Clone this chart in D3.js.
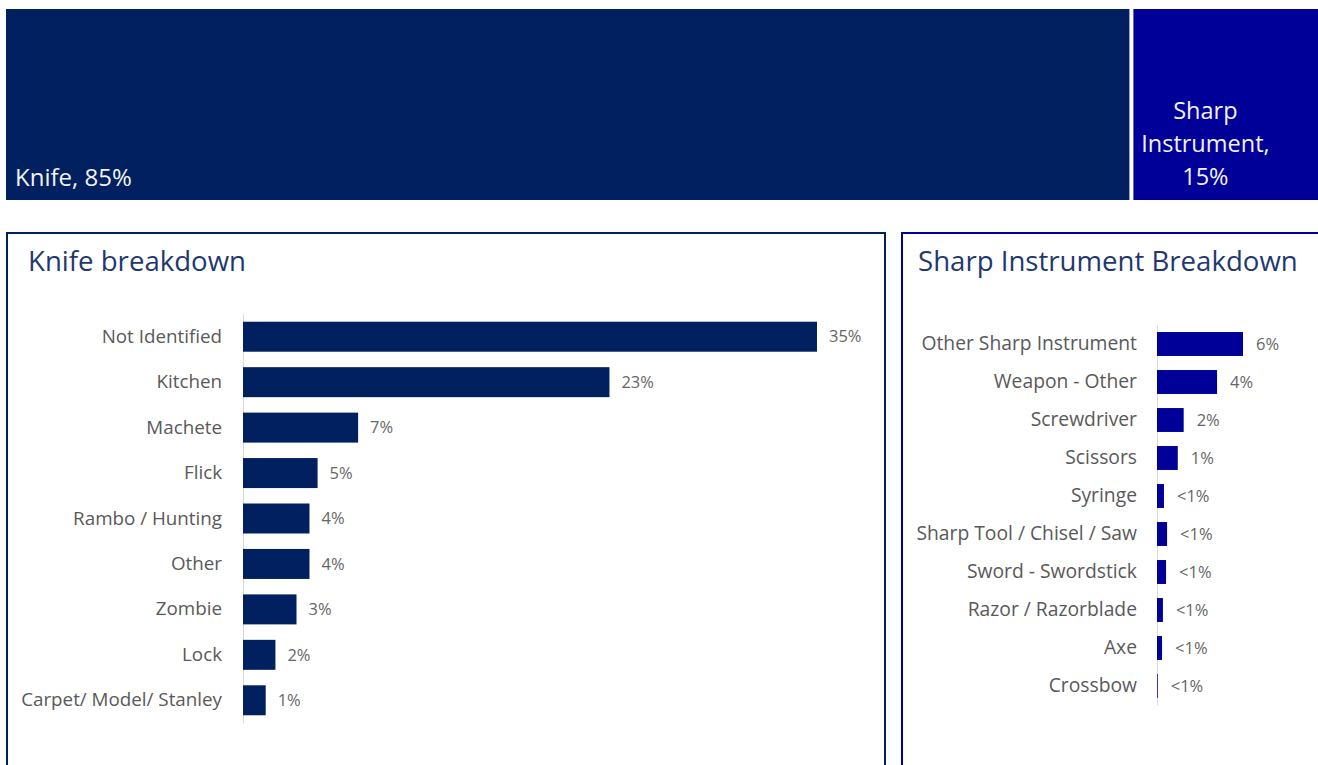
<!DOCTYPE html>
<html>
<head>
<meta charset="utf-8">
<script src="https://cdn.jsdelivr.net/npm/d3@7"></script>
<style>
  html, body { margin: 0; padding: 0; background: #fff; }
  svg { display: block; font-family: "Open Sans", "Noto Sans", sans-serif; }
</style>
</head>
<body>
<svg id="chart" width="1318" height="765"></svg>
<script>
// Overall split of weapon types
const splitNames = ["Knife", "Sharp Instrument"];
const splitValues = [85, 15];
const splitColors = ["#002060", "#000099"];

// Knife breakdown (% of all incidents)
const knifeCategories = ["Not Identified", "Kitchen", "Machete", "Flick", "Rambo / Hunting", "Other", "Zombie", "Lock", "Carpet/ Model/ Stanley"];
const knifeValues = [35.4, 22.6, 7.1, 4.6, 4.1, 4.1, 3.3, 2.0, 1.4];

// Sharp instrument breakdown (% of all incidents)
const sharpCategories = ["Other Sharp Instrument", "Weapon - Other", "Screwdriver", "Scissors", "Syringe", "Sharp Tool / Chisel / Saw", "Sword - Swordstick", "Razor / Razorblade", "Axe", "Crossbow"];
const sharpValues = [5.8, 4.05, 1.8, 1.4, 0.47, 0.68, 0.61, 0.4, 0.34, 0.05];

const svg = d3.select("#chart");
const pct = v => v < 1 ? "<1%" : d3.format(".0f")(v) + "%";

// ---- Top split bar ----
const splitX = d3.scaleLinear().domain([0, d3.sum(splitValues)]).range([6, 1330]);
const cum = d3.cumsum(splitValues);
const splitData = splitNames.map((n, i) => ({ name: n, value: splitValues[i], x0: cum[i] - splitValues[i], x1: cum[i], color: splitColors[i] }));
const splitG = svg.append("g");
splitG.selectAll("rect").data(splitData).join("rect")
  .attr("x", d => splitX(d.x0) + (d.x0 > 0 ? 2 : 0))
  .attr("y", 9)
  .attr("width", d => splitX(d.x1) - splitX(d.x0) - 2 - (d.x0 > 0 ? 2 : 0))
  .attr("height", 191)
  .attr("fill", d => d.color);

// Knife label bottom-left
splitG.append("text")
  .attr("x", splitX(0) + 9).attr("y", 186)
  .attr("fill", "#f2f2f2").attr("font-size", 24)
  .text(`${splitData[0].name}, ${splitData[0].value}%`);

// Sharp instrument label, wrapped
const sLabel = splitG.append("text")
  .attr("fill", "#f2f2f2").attr("font-size", 23.5).attr("text-anchor", "middle");
["Sharp", "Instrument,", `${splitData[1].value}%`].forEach((line, i) => {
  sLabel.append("tspan").attr("x", splitX(splitData[1].x0) + 74).attr("y", 119 + i * 33).text(line);
});

// ---- Panels ----
function panel(x, y, w, h, stroke, title, titleDx) {
  svg.append("rect").attr("x", x).attr("y", y).attr("width", w).attr("height", h)
    .attr("fill", "none").attr("stroke", stroke).attr("stroke-width", 2);
  svg.append("text").attr("x", x + titleDx).attr("y", y + 38)
    .attr("fill", "#1f3870").attr("font-size", 27.6).text(title);
}
panel(7, 233, 878, 600, "#002060", "Knife breakdown", 21);
panel(902, 233, 500, 600, "#000099", "Sharp Instrument Breakdown", 16);

// ---- Bar chart helper ----
function barChart(cats, vals, opts) {
  const y = d3.scaleBand().domain(cats).range(opts.yRange)
    .paddingInner(opts.pad).paddingOuter(opts.pad / 2);
  const x = d3.scaleLinear().domain([0, d3.max(vals)]).range(opts.xRange);
  const g = svg.append("g");
  const axis = g.append("g")
    .attr("transform", `translate(${opts.xRange[0]},0)`)
    .call(d3.axisLeft(y).tickSize(0).tickPadding(opts.tickPad));
  axis.select(".domain").attr("stroke", "#d9d9d9").attr("stroke-width", 1);
  axis.selectAll("text").attr("fill", "#595959").attr("font-size", opts.labelSize)
    .attr("font-family", "Open Sans, Noto Sans, sans-serif");
  const data = cats.map((c, i) => ({ c, v: vals[i] }));
  g.selectAll("rect.bar").data(data).join("rect")
    .attr("class", "bar")
    .attr("x", x(0))
    .attr("y", d => y(d.c))
    .attr("width", d => x(d.v) - x(0))
    .attr("height", y.bandwidth())
    .attr("fill", opts.color);
  g.selectAll("text.val").data(data).join("text")
    .attr("class", "val")
    .attr("x", d => x(d.v) + opts.valPad)
    .attr("y", d => y(d.c) + y.bandwidth() / 2)
    .attr("dy", "0.35em")
    .attr("fill", "#666666").attr("font-size", opts.valSize)
    .text(d => pct(d.v));
}

barChart(knifeCategories, knifeValues, {
  yRange: [314, 723], xRange: [243, 817], pad: 0.34, color: "#002060",
  tickPad: 21, labelSize: 18.8, valSize: 16.5, valPad: 12
});
barChart(sharpCategories, sharpValues, {
  yRange: [325, 705], xRange: [1157, 1243], pad: 0.37, color: "#000099",
  tickPad: 20, labelSize: 19.3, valSize: 16.5, valPad: 13
});
</script>
</body>
</html>
